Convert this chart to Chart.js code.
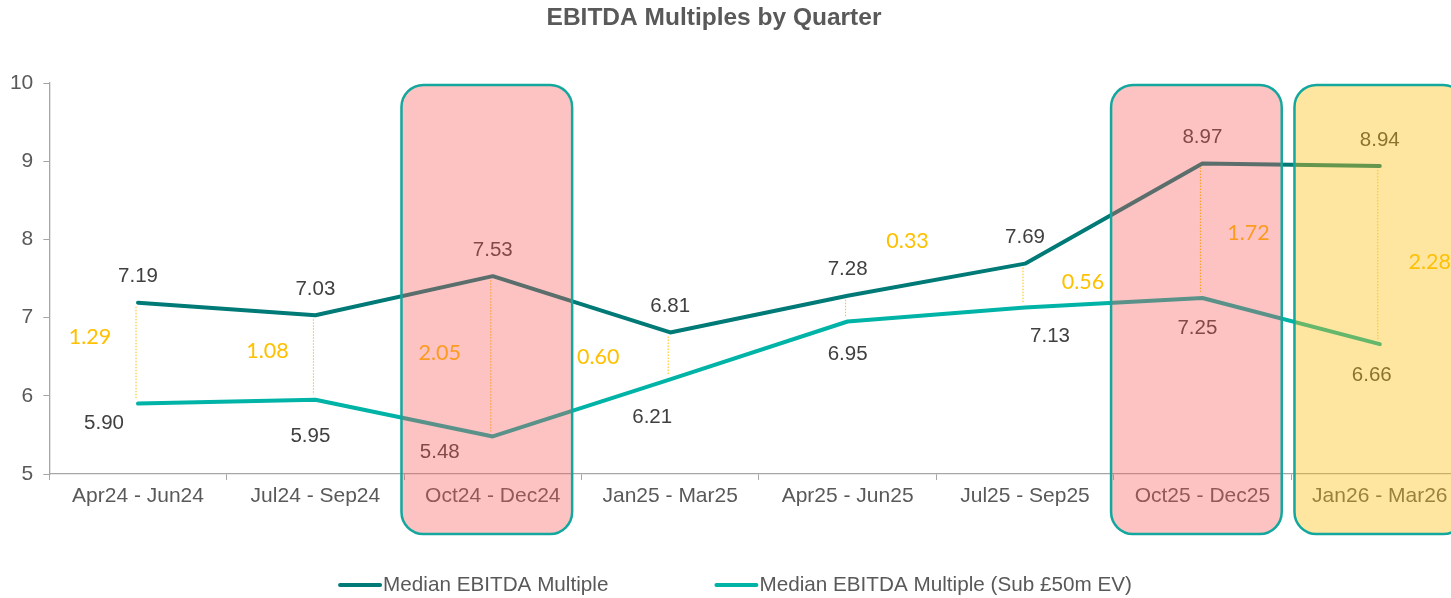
<!DOCTYPE html>
<html>
<head>
<meta charset="utf-8">
<title>EBITDA Multiples by Quarter</title>
<script src="https://cdn.jsdelivr.net/npm/chart.js@4"></script>
<style>
  html, body { margin: 0; padding: 0; background: #fff; overflow: hidden; }
  #wrap { width: 1470px; height: 598px; }
</style>
</head>
<body>
<div id="wrap"><canvas id="ebitdaChart"></canvas></div>
<script>
const quarters = ['Apr24 - Jun24', 'Jul24 - Sep24', 'Oct24 - Dec24', 'Jan25 - Mar25',
  'Apr25 - Jun25', 'Jul25 - Sep25', 'Oct25 - Dec25', 'Jan26 - Mar26'];
const medianMultiple = [7.19, 7.03, 7.53, 6.81, 7.28, 7.69, 8.97, 8.94];
const subMultiple = [5.90, 5.95, 5.48, 6.21, 6.95, 7.13, 7.25, 6.66];
const gapValues = [1.29, 1.08, 2.05, 0.60, 0.33, 0.56, 1.72, 2.28];
const pinkQuarters = ['Oct24 - Dec24', 'Oct25 - Dec25'];
const yellowQuarters = ['Jan26 - Mar26'];

// hand moved labels (px, relative to the point)
const subLabelNudge = [[-34, 20], [-5, 37], [-53, 16], [-18, 38], [0, 33], [25, 29], [-5, 30], [-8, 31]];
const gapLabelNudge = [[-48, -16], [-48, -6], [-53, -3], [-72, 1], [60, -68], [58, -3], [46, 2], [50, 7]];

const DARK = '#007a77';
const LIGHT = '#00b3a7';
const GAP = '#ffc000';
const AXIS = '#a6a6a6';
const TXT = '#595959';
const FONT = '"Liberation Sans", Arial, sans-serif';

const annotate = {
  id: 'annotate',
  afterDatasetsDraw(chart) {
    const { ctx, scales: { x, y } } = chart;
    ctx.save();

    // dotted connectors between the two series
    ctx.strokeStyle = GAP;
    ctx.lineWidth = 1;
    ctx.setLineDash([1.5, 1.5]);
    quarters.forEach((q, i) => {
      const px = x.getPixelForValue(i) - 2;
      ctx.beginPath();
      ctx.moveTo(px, y.getPixelForValue(medianMultiple[i]) + 4);
      ctx.lineTo(px, y.getPixelForValue(subMultiple[i]) - 5);
      ctx.stroke();
    });
    ctx.setLineDash([]);

    ctx.textAlign = 'center';
    ctx.textBaseline = 'middle';
    ctx.font = '20.5px ' + FONT;
    ctx.fillStyle = '#404040';
    quarters.forEach((q, i) => {
      const px = x.getPixelForValue(i);
      ctx.fillText(medianMultiple[i].toFixed(2), px, y.getPixelForValue(medianMultiple[i]) - 26);
      const [dx, dy] = subLabelNudge[i];
      ctx.fillText(subMultiple[i].toFixed(2), px + dx, y.getPixelForValue(subMultiple[i]) + dy);
    });

    ctx.font = '21.5px Lato, "Open Sans", sans-serif';
    ctx.fillStyle = GAP;
    quarters.forEach((q, i) => {
      const px = x.getPixelForValue(i);
      const mid = (y.getPixelForValue(medianMultiple[i]) + y.getPixelForValue(subMultiple[i])) / 2;
      const [dx, dy] = gapLabelNudge[i];
      ctx.fillText(gapValues[i].toFixed(2), px + dx, mid + dy);
    });
    ctx.restore();
  },
  afterDraw(chart) {
    const { ctx, chartArea, scales: { x, y } } = chart;
    const catW = x.getPixelForValue(1) - x.getPixelForValue(0);
    ctx.save();

    // highlight boxes sit on top of everything, see-through
    const boxes = [
      ...pinkQuarters.map(q => [q, 'rgba(249, 89, 89, 0.36)', -6]),
      ...yellowQuarters.map(q => [q, 'rgba(252, 192, 17, 0.40)', 0])
    ];
    boxes.forEach(([q, fill, shift]) => {
      const cx = x.getPixelForValue(quarters.indexOf(q)) + shift;
      const w = catW * 0.962;
      const top = y.getPixelForValue(10) + 2;
      const bottom = chartArea.bottom + 60;
      ctx.beginPath();
      ctx.roundRect(cx - w / 2, top, w, bottom - top, 22);
      ctx.fillStyle = fill;
      ctx.fill();
      ctx.lineWidth = 2.5;
      ctx.strokeStyle = '#14a79d';
      ctx.stroke();
    });

    // title
    ctx.font = 'bold 24.5px ' + FONT;
    ctx.fillStyle = TXT;
    ctx.textAlign = 'center';
    ctx.textBaseline = 'middle';
    ctx.fillText('EBITDA Multiples by Quarter', chart.width / 2 - 21, 18);

    // legend
    ctx.font = '20.7px ' + FONT;
    ctx.textAlign = 'left';
    const sample = 44, gapAfterSample = 1, itemGap = 106;
    const items = chart.data.datasets.map(ds => ({
      label: ds.label, color: ds.borderColor, w: sample + gapAfterSample + ctx.measureText(ds.label).width
    }));
    const total = items.reduce((s, it) => s + it.w, 0) + itemGap * (items.length - 1);
    let lx = chart.width / 2 - total / 2;
    const ly = 585;
    items.forEach(it => {
      ctx.beginPath();
      ctx.moveTo(lx + 2, ly);
      ctx.lineTo(lx + sample - 2, ly);
      ctx.lineWidth = 4;
      ctx.lineCap = 'round';
      ctx.strokeStyle = it.color;
      ctx.stroke();
      ctx.fillStyle = TXT;
      ctx.fillText(it.label, lx + sample + gapAfterSample, ly);
      lx += it.w + itemGap;
    });
    ctx.restore();
  }
};

new Chart(document.getElementById('ebitdaChart').getContext('2d'), {
  type: 'line',
  data: {
    labels: quarters,
    datasets: [
      {
        label: 'Median EBITDA Multiple',
        data: medianMultiple,
        borderColor: DARK,
        backgroundColor: DARK,
        borderWidth: 4,
        pointRadius: 0,
        tension: 0,
        borderCapStyle: 'round',
        borderJoinStyle: 'round',
      },
      {
        label: 'Median EBITDA Multiple (Sub £50m EV)',
        data: subMultiple,
        borderColor: LIGHT,
        backgroundColor: LIGHT,
        borderWidth: 4,
        pointRadius: 0,
        tension: 0,
        borderCapStyle: 'round',
        borderJoinStyle: 'round',
      },
    ],
  },
  options: {
    responsive: true,
    maintainAspectRatio: false,
    animation: false,
    layout: { padding: { top: 83, right: 1.5, bottom: 84, left: 0 } },
    plugins: {
      legend: { display: false },
      title: { display: false },
      tooltip: { enabled: false },
    },
    scales: {
      x: {
        offset: true,
        grid: { offset: true, drawOnChartArea: false, tickLength: 6, color: AXIS },
        border: { color: AXIS, width: 1.3 },
        ticks: { font: { size: 21, family: FONT }, color: TXT, maxRotation: 0, autoSkip: false, padding: 4 },
        afterFit(scale) { scale.height = 40; },
      },
      y: {
        min: 5,
        max: 10,
        grid: { drawOnChartArea: false, tickLength: 6, color: AXIS },
        border: { color: AXIS, width: 1.3 },
        ticks: { stepSize: 1, font: { size: 21, family: FONT }, color: TXT, padding: 10 },
        afterFit(scale) { scale.width = 49.3; },
      },
    },
  },
  plugins: [annotate],
});
</script>
</body>
</html>
